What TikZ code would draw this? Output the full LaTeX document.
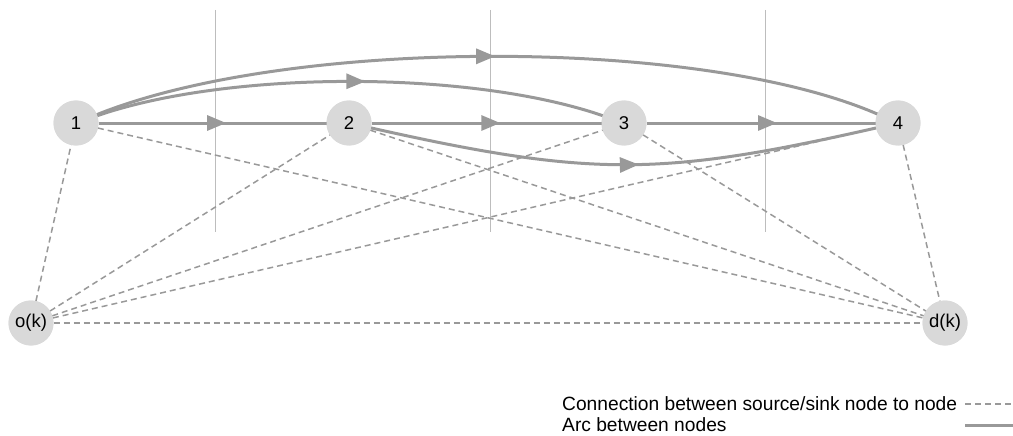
\documentclass[tikz,border=0pt]{standalone}
\usepackage{fontspec}
\setmainfont{Liberation Sans}
\usetikzlibrary{arrows.meta,decorations.markings}

\definecolor{nodefill}{HTML}{D9D9D9}
\definecolor{arcgray}{HTML}{999999}
\definecolor{guidegray}{HTML}{BDBDBD}

\tikzset{
  vertex/.style={circle, fill=nodefill, minimum size=45pt, inner sep=0pt, outer sep=0pt,
                 font=\fontsize{18.5pt}{22pt}\selectfont},
  arc/.style={draw=arcgray, line width=3pt},
  link/.style={draw=arcgray, line width=1.5pt, dash pattern=on 6pt off 4pt},
  guide/.style={draw=guidegray, line width=0.9pt},
  midarrow/.style={postaction={decorate}, decoration={markings,
      mark=at position #1 with {\arrow[arcgray]{Triangle[length=19pt,width=15pt]}}}},
  legendtext/.style={anchor=west, inner sep=0pt, font=\fontsize{19.2pt}{22pt}\selectfont}
}

\begin{document}
\begin{tikzpicture}[x=1pt, y=-1pt]
  \useasboundingbox (0,0) rectangle (1013,436);

  % stage separators
  \foreach \gx in {215,490,765}
    \draw[guide] (\gx,10) -- (\gx,232);

  % nodes
  \node[vertex] (n1) at (76,123) {1};
  \node[vertex] (n2) at (349,123) {2};
  \node[vertex] (n3) at (624,123) {3};
  \node[vertex] (n4) at (898,123) {4};
  \node[vertex] (o) at (31,323) {o(k)};
  \node[vertex] (d) at (945,323) {d(k)};

  % source/sink connections
  \foreach \t in {n1,n2,n3,n4,d}
    \path[link] (o) -- (\t);
  \foreach \t in {n1,n2,n3,n4}
    \path[link] (\t) -- (d);

  % arcs between nodes
  \path[arc, midarrow=0.56] (n1) -- (n2);
  \path[arc, midarrow=0.56] (n2) -- (n3);
  \path[arc, midarrow=0.57] (n3) -- (n4);
  \path[arc, midarrow=0.53] (n1) .. controls (230,70) and (470,70) .. (n3);
  \path[arc, midarrow=0.51] (n1) .. controls (290,37) and (700,37) .. (n4);
  \path[arc, midarrow=0.53] (n2) .. controls (590,177) and (660,177) .. (n4);

  % redraw nodes on top of line ends
  \node[vertex] at (n1) {1};
  \node[vertex] at (n2) {2};
  \node[vertex] at (n3) {3};
  \node[vertex] at (n4) {4};
  \node[vertex] at (o) {o(k)};
  \node[vertex] at (d) {d(k)};

  % legend
  \node[legendtext] (lg1) at (562,404) {Connection between source/sink node to node};
  \node[legendtext] (lg2) at (562,425) {Arc between nodes};
  \coordinate (k1a) at (965,404);
  \coordinate (k1b) at (1013,404);
  \coordinate (k2a) at (965,425);
  \coordinate (k2b) at (1013,425);
  \path[link] (k1a) -- (k1b);
  \path[arc] (k2a) -- (k2b);
\end{tikzpicture}
\end{document}
